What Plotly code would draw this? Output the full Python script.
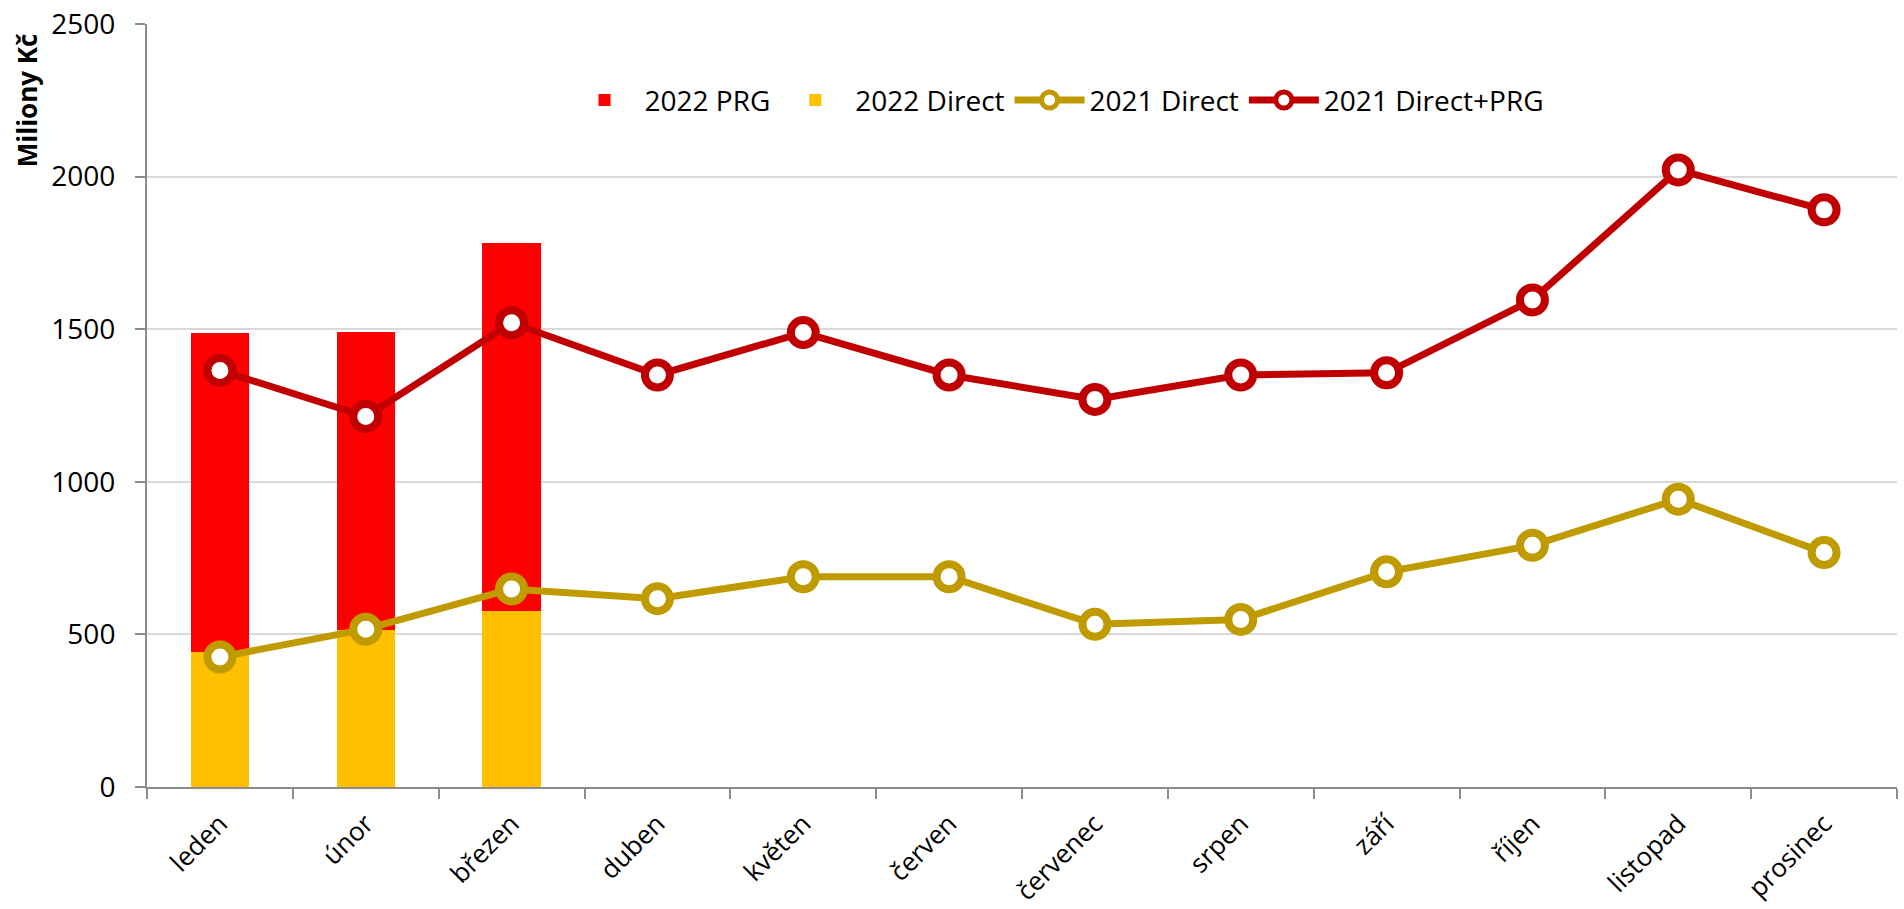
import plotly.graph_objects as go

months = ["leden", "únor", "březen", "duben", "květen", "červen",
          "červenec", "srpen", "září", "říjen", "listopad", "prosinec"]

prg_2022 = [1047, 977, 1208]
direct_2022 = [442, 515, 576]
direct_2021 = [426, 517, 649, 617, 689, 689, 533, 549, 705, 792, 943, 768]
total_2021 = [1365, 1214, 1521, 1350, 1489, 1350, 1270, 1350, 1357, 1596, 2022, 1891]

y_ticks = [0, 500, 1000, 1500, 2000, 2500]

FONT = "Open Sans"
AXIS_GRAY = "#8c8c8c"

fig = go.Figure()

fig.add_trace(go.Bar(
    x=months[:len(direct_2022)], y=direct_2022, name="2022 Direct",
    marker=dict(color="#FFC000", line=dict(width=0)), width=0.4, legendrank=2,
))
fig.add_trace(go.Bar(
    x=months[:len(prg_2022)], y=prg_2022, name="2022 PRG",
    marker=dict(color="#FF0000", line=dict(width=0)), width=0.4, legendrank=1,
))
fig.add_trace(go.Scatter(
    x=months, y=direct_2021, name="2021 Direct", mode="lines+markers",
    line=dict(color="#BF9B00", width=7),
    marker=dict(symbol="circle", size=25, color="white",
                line=dict(color="#BF9B00", width=8)),
    legendrank=3,
))
fig.add_trace(go.Scatter(
    x=months, y=total_2021, name="2021 Direct+PRG", mode="lines+markers",
    line=dict(color="#C00000", width=7),
    marker=dict(symbol="circle", size=25, color="white",
                line=dict(color="#C00000", width=8)),
    legendrank=4,
))

fig.update_layout(
    width=1904, height=909,
    barmode="stack",
    plot_bgcolor="white", paper_bgcolor="white",
    font=dict(family=FONT, size=28, color="black"),
    margin=dict(l=147, r=7, t=24, b=122, autoexpand=False),
    showlegend=True,
    legend=dict(
        orientation="h", x=0.52, xanchor="center", y=0.9, yanchor="middle",
        font=dict(family=FONT, size=28, color="black"),
        bgcolor="rgba(0,0,0,0)", itemwidth=70, traceorder="normal",
    ),
    xaxis=dict(
        type="category", categoryorder="array", categoryarray=months,
        tickson="boundaries", ticks="outside", ticklen=10, tickwidth=2,
        tickcolor=AXIS_GRAY, showline=True, linecolor=AXIS_GRAY, linewidth=2,
        tickangle=-45, showgrid=False, automargin=False, ticklabelstandoff=9,
        ticklabeloverflow="allow",
        tickfont=dict(family=FONT, size=26, color="black"),
        range=[-0.5, 11.5],
    ),
    yaxis=dict(
        range=[0, 2500], tickvals=y_ticks, ticktext=[str(v) for v in y_ticks],
        ticks="outside", ticklen=10, tickwidth=2, tickcolor=AXIS_GRAY,
        showline=True, linecolor=AXIS_GRAY, linewidth=2,
        showgrid=True, gridcolor="#d9d9d9", gridwidth=2,
        zeroline=False, automargin=False, ticklabelstandoff=14,
        ticklabeloverflow="allow",
        tickfont=dict(family=FONT, size=28, color="black"),
    ),
    annotations=[dict(
        text="<b>Miliony Kč</b>", xref="paper", yref="paper",
        x=-0.0686, y=0.9, xanchor="center", yanchor="middle",
        textangle=-90, showarrow=False,
        font=dict(family=FONT, size=26, color="black"),
    )],
)

fig.write_html("out.html", config={"displayModeBar": False},
               post_script="document.body.style.margin='0';")
